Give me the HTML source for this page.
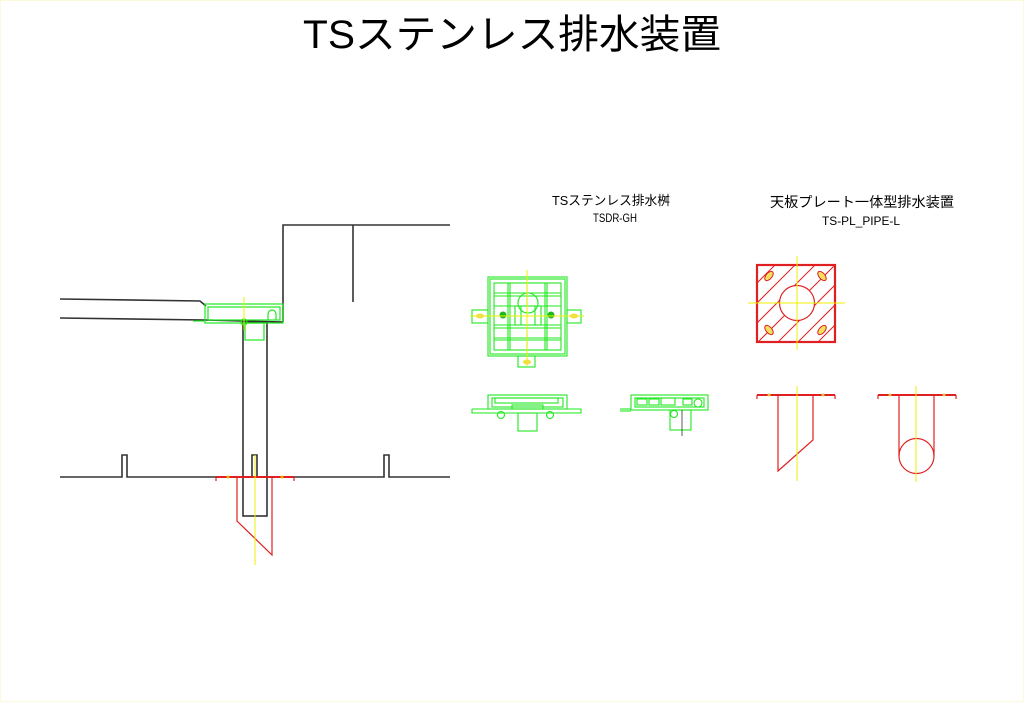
<!DOCTYPE html>
<html><head><meta charset="utf-8">
<style>
html,body{margin:0;padding:0;background:#fff;}
body{width:1024px;height:702px;overflow:hidden;position:relative;}
svg{position:absolute;left:0;top:0;}
text{font-family:"Liberation Sans","Noto Sans CJK JP",sans-serif;fill:#000;}
</style></head><body>
<svg width="1024" height="702" viewBox="0 0 1024 702" xmlns="http://www.w3.org/2000/svg">
<rect x="0.5" y="0.5" width="1023" height="701" fill="none" stroke="#fbfbdc" stroke-width="1"/>
<text x="512" y="48" font-size="40" text-anchor="middle" textLength="418" lengthAdjust="spacingAndGlyphs">TSステンレス排水装置</text>

<text x="611" y="205" font-size="13" text-anchor="middle" textLength="118" lengthAdjust="spacingAndGlyphs">TSステンレス排水桝</text>
<text x="615" y="222" font-size="12" text-anchor="middle" textLength="44" lengthAdjust="spacingAndGlyphs">TSDR-GH</text>
<text x="862" y="207" font-size="14" text-anchor="middle" textLength="184" lengthAdjust="spacingAndGlyphs">天板プレート一体型排水装置</text>
<text x="861" y="225" font-size="12" text-anchor="middle" textLength="78" lengthAdjust="spacingAndGlyphs">TS-PL_PIPE-L</text>

<!-- section drawing (black) -->
<g fill="none" stroke="#333" stroke-width="1.6">
<polyline points="283,322 283,225 450,225"/>
<line x1="353" y1="225" x2="353" y2="302"/>
<polyline points="60,299 200,301 206,306"/>
<polyline points="60,318 205,320 283,322"/>
<polyline points="60,477 122,477 122,455 127,455 127,477 252,477 252,455 257,455 257,477 384,477 384,455 389,455 389,477 450,477"/>
<rect x="243" y="322" width="24" height="194"/>
</g>
<g fill="none" stroke="#1ee81e" stroke-width="1.2">
<rect x="205" y="304" width="78" height="19"/>
<rect x="208" y="307" width="72" height="13"/>
<path d="M268,320 v-6 a4,4 0 0 1 8,0 v6"/>
<rect x="245" y="323" width="19" height="17"/>
<circle cx="244" cy="322" r="3"/>
<line x1="193" y1="321" x2="205" y2="321"/>
</g>
<line x1="244" y1="297" x2="244" y2="330" stroke="#f0f000" stroke-width="1"/>
<g fill="none" stroke="#e02020" stroke-width="1.2">
<line x1="216" y1="477" x2="294" y2="477" stroke-width="2"/>
<line x1="216" y1="477" x2="216" y2="481"/><line x1="294" y1="477" x2="294" y2="481"/>
<polyline points="237,477 237,521 272,555 272,477"/>
</g>
<line x1="255" y1="455" x2="255" y2="565" stroke="#f0f000" stroke-width="1"/>
<circle cx="228" cy="477" r="1.5" fill="#f0b000"/><circle cx="282" cy="477" r="1.5" fill="#f0b000"/>

<!-- green top view -->
<g fill="none" stroke="#1ee81e" stroke-width="1.1">
<rect x="488" y="277" width="79" height="79"/>
<rect x="490" y="279" width="75" height="75"/>
<rect x="494" y="283" width="67" height="67"/>
<rect x="472" y="310" width="16" height="13"/>
<rect x="567" y="310" width="14" height="13"/>
<rect x="518" y="356" width="17" height="11"/>
<line x1="508" y1="283" x2="508" y2="350"/><line x1="510" y1="283" x2="510" y2="350"/>
<line x1="527" y1="283" x2="527" y2="306"/><line x1="527" y1="330" x2="527" y2="350"/>
<line x1="545" y1="283" x2="545" y2="350"/><line x1="547" y1="283" x2="547" y2="350"/>
<line x1="494" y1="293" x2="561" y2="293"/><line x1="494" y1="296" x2="561" y2="296"/>
<line x1="494" y1="306" x2="561" y2="306"/>
<line x1="494" y1="325" x2="561" y2="325"/><line x1="494" y1="328" x2="561" y2="328"/>
<line x1="494" y1="338" x2="561" y2="338"/><line x1="494" y1="340" x2="561" y2="340"/>
<circle cx="528" cy="303" r="10"/>
<rect x="515" y="306" width="26" height="19"/>
<line x1="521" y1="306" x2="521" y2="325"/><line x1="535" y1="306" x2="535" y2="325"/>
</g>
<circle cx="503" cy="315" r="3.5" fill="#1ab81a"/><circle cx="551" cy="315" r="3.5" fill="#1ab81a"/>
<g stroke="#f0f000" stroke-width="1" fill="none">
<line x1="527" y1="270" x2="527" y2="366"/><line x1="470" y1="316" x2="584" y2="316"/>
</g>
<g fill="#f0e040"><ellipse cx="480" cy="316" rx="4" ry="2.5"/><ellipse cx="574" cy="316" rx="4" ry="2.5"/><ellipse cx="527" cy="362" rx="4" ry="2.5"/></g>

<!-- green front view -->
<g fill="none" stroke="#1ee81e" stroke-width="1.1">
<rect x="488" y="395" width="79" height="14"/>
<rect x="492" y="398" width="71" height="9"/>
<rect x="495" y="398" width="63" height="5"/>
<rect x="512" y="405" width="31" height="4"/>
<polyline points="472,409 581,409 581,413 472,413 472,409"/>
<rect x="518" y="413" width="19" height="18"/>
<circle cx="501" cy="415" r="3.5"/><circle cx="550" cy="415" r="3.5"/>
</g>
<!-- green side view -->
<g fill="none" stroke="#1ee81e" stroke-width="1.1">
<rect x="631" y="395" width="77" height="15"/>
<rect x="635" y="398" width="69" height="9"/>
<rect x="637" y="399" width="10" height="6"/><rect x="649" y="399" width="10" height="6"/>
<rect x="661" y="398" width="14" height="7"/><rect x="683" y="399" width="9" height="6"/>
<circle cx="698" cy="403" r="4"/>
<line x1="620" y1="409" x2="631" y2="409"/><line x1="620" y1="411" x2="631" y2="411"/>
<rect x="670" y="410" width="21" height="20"/>
<circle cx="674" cy="414" r="3.5"/>
</g>
<line x1="682" y1="410" x2="682" y2="436" stroke="#333" stroke-width="0.8"/>

<!-- red top view -->
<defs><clipPath id="sq"><rect x="757" y="265" width="78" height="77"/></clipPath></defs>
<g clip-path="url(#sq)" stroke="#e02020" stroke-width="1">
<g id="hatch">
<line x1="740" y1="300" x2="800" y2="240"/><line x1="740" y1="320" x2="820" y2="240"/>
<line x1="740" y1="340" x2="840" y2="240"/><line x1="740" y1="360" x2="860" y2="240"/>
<line x1="750" y1="370" x2="870" y2="250"/><line x1="770" y1="370" x2="870" y2="270"/>
<line x1="790" y1="370" x2="870" y2="290"/><line x1="810" y1="370" x2="870" y2="310"/>
<line x1="830" y1="370" x2="870" y2="330"/>
</g>
</g>
<circle cx="797" cy="303" r="17.5" fill="#fff" stroke="#e02020" stroke-width="1.2"/>
<rect x="757" y="265" width="78" height="77" fill="none" stroke="#e02020" stroke-width="2.2"/>
<g fill="#f5e060" stroke="#e02020" stroke-width="1">
<ellipse cx="769" cy="276" rx="3" ry="5.5" transform="rotate(40 769 276)"/>
<ellipse cx="822" cy="276" rx="3" ry="5.5" transform="rotate(-40 822 276)"/>
<ellipse cx="769" cy="330" rx="3" ry="5.5" transform="rotate(-40 769 330)"/>
<ellipse cx="822" cy="330" rx="3" ry="5.5" transform="rotate(40 822 330)"/>
</g>
<g stroke="#f0f000" stroke-width="1">
<line x1="797" y1="256" x2="797" y2="350"/><line x1="748" y1="303" x2="845" y2="303"/>
</g>

<!-- red side views -->
<g fill="none" stroke="#e02020" stroke-width="1.2">
<line x1="757" y1="395" x2="835" y2="395" stroke-width="2"/>
<line x1="757" y1="395" x2="757" y2="399"/><line x1="835" y1="395" x2="835" y2="399"/>
<polyline points="778,395 778,471 813,440 813,395"/>
<line x1="878" y1="395" x2="956" y2="395" stroke-width="2"/>
<line x1="878" y1="395" x2="878" y2="399"/><line x1="956" y1="395" x2="956" y2="399"/>
<line x1="899" y1="395" x2="899" y2="456"/><line x1="934" y1="395" x2="934" y2="456"/>
<circle cx="916.5" cy="456" r="17.5"/>
</g>
<g stroke="#f0f000" stroke-width="1">
<line x1="797" y1="386" x2="797" y2="481"/><line x1="916" y1="386" x2="916" y2="482"/>
</g>
<g fill="#f0c040"><circle cx="769" cy="395" r="1.5"/><circle cx="823" cy="395" r="1.5"/><circle cx="890" cy="395" r="1.5"/><circle cx="944" cy="395" r="1.5"/></g>
</svg>
</body></html>
